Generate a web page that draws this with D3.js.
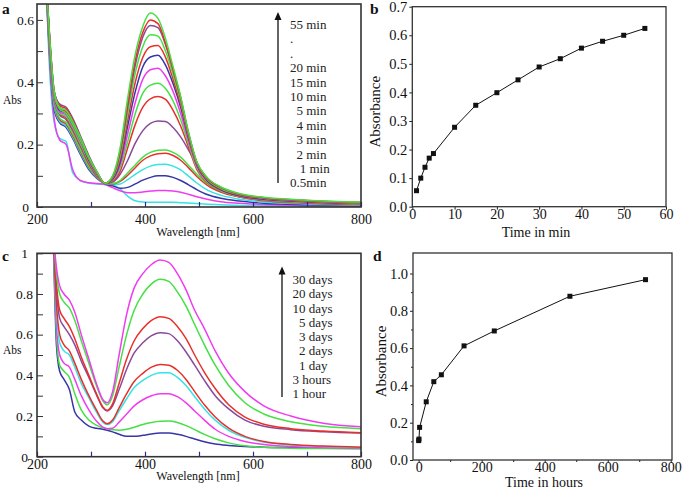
<!DOCTYPE html>
<html><head><meta charset="utf-8">
<script src="https://cdn.jsdelivr.net/npm/d3@7"></script>
<style>
html,body{margin:0;padding:0;background:#fff;}
svg{display:block;}
svg text{font-family:"Liberation Serif","Times New Roman",serif !important;}
</style></head><body>
<svg id="chart" width="685" height="496"></svg>
<script>
// ---------- Panel a: spectra over minutes ----------
const wlA = [216,224,232,242,254,266,280,296,312,326,340,354,368,382,396,410,424,438,452,466,480,496,515,540,575,620,700,800];
const a_05min = [0.75,0.42,0.27,0.22,0.21,0.11,0.085,0.077,0.074,0.072,0.07,0.058,0.035,0.02,0.016,0.015,0.015,0.015,0.015,0.014,0.013,0.011,0.009,0.007,0.005,0.004,0.003,0.002];
const a_1min  = [0.75,0.45,0.28,0.215,0.2,0.12,0.085,0.078,0.075,0.072,0.062,0.052,0.046,0.046,0.048,0.051,0.053,0.053,0.051,0.047,0.041,0.033,0.025,0.017,0.012,0.008,0.005,0.003];
const a_2min  = [0.75,0.47,0.31,0.27,0.255,0.22,0.17,0.12,0.09,0.074,0.068,0.06,0.063,0.074,0.086,0.095,0.1,0.1,0.095,0.085,0.072,0.056,0.04,0.028,0.019,0.012,0.007,0.004];
const a_3min  = [0.75,0.48,0.32,0.275,0.26,0.225,0.175,0.125,0.092,0.075,0.072,0.074,0.088,0.105,0.12,0.131,0.136,0.137,0.131,0.119,0.1,0.077,0.055,0.038,0.025,0.016,0.01,0.006];
const a_4min  = [0.75,0.49,0.33,0.28,0.265,0.23,0.18,0.128,0.094,0.076,0.074,0.082,0.102,0.126,0.15,0.164,0.171,0.172,0.165,0.15,0.127,0.098,0.07,0.048,0.032,0.02,0.012,0.007];
const a_5min  = [0.75,0.49,0.33,0.285,0.27,0.235,0.185,0.13,0.095,0.076,0.075,0.085,0.11,0.135,0.16,0.175,0.182,0.183,0.175,0.16,0.135,0.105,0.075,0.052,0.035,0.022,0.013,0.008];
const a_10min = [0.75,0.5,0.34,0.295,0.28,0.245,0.195,0.138,0.096,0.076,0.08,0.105,0.15,0.205,0.245,0.268,0.276,0.274,0.255,0.225,0.185,0.135,0.09,0.06,0.038,0.024,0.014,0.009];
const a_15min = [0.75,0.51,0.35,0.3,0.285,0.25,0.2,0.14,0.098,0.076,0.084,0.115,0.19,0.265,0.32,0.347,0.354,0.345,0.31,0.26,0.195,0.12,0.078,0.052,0.033,0.022,0.014,0.009];
const a_20min = [0.75,0.51,0.35,0.3,0.29,0.255,0.205,0.145,0.1,0.076,0.086,0.125,0.21,0.3,0.365,0.391,0.397,0.38,0.34,0.28,0.205,0.125,0.08,0.053,0.034,0.023,0.015,0.01];
const a_25min = [0.75,0.51,0.35,0.305,0.295,0.26,0.21,0.148,0.1,0.076,0.088,0.135,0.235,0.335,0.41,0.44,0.445,0.42,0.37,0.3,0.215,0.13,0.083,0.055,0.035,0.024,0.016,0.01];
const a_30min = [0.75,0.52,0.36,0.31,0.3,0.265,0.215,0.15,0.103,0.076,0.09,0.145,0.26,0.37,0.45,0.481,0.487,0.455,0.395,0.32,0.225,0.135,0.085,0.056,0.036,0.025,0.017,0.011];
const a_35min = [0.75,0.52,0.36,0.315,0.305,0.27,0.22,0.155,0.105,0.076,0.092,0.155,0.28,0.4,0.48,0.514,0.518,0.48,0.41,0.33,0.23,0.138,0.088,0.058,0.038,0.027,0.018,0.012];
const a_40min = [0.75,0.52,0.36,0.315,0.3,0.265,0.215,0.155,0.105,0.076,0.094,0.165,0.3,0.43,0.515,0.552,0.548,0.5,0.425,0.34,0.235,0.14,0.09,0.06,0.04,0.028,0.019,0.013];
const a_45min = [0.75,0.53,0.37,0.33,0.32,0.285,0.23,0.165,0.11,0.076,0.096,0.175,0.32,0.455,0.545,0.582,0.575,0.52,0.44,0.35,0.24,0.143,0.093,0.063,0.041,0.029,0.02,0.014];
const a_50min = [0.75,0.53,0.37,0.325,0.315,0.28,0.225,0.16,0.108,0.076,0.098,0.18,0.33,0.47,0.56,0.6,0.588,0.525,0.44,0.35,0.24,0.143,0.093,0.063,0.042,0.03,0.021,0.015];
const a_55min = [0.75,0.53,0.37,0.32,0.31,0.275,0.225,0.16,0.11,0.076,0.1,0.19,0.35,0.49,0.58,0.622,0.605,0.54,0.45,0.355,0.245,0.145,0.095,0.065,0.043,0.031,0.022,0.016];
const seriesA = [a_05min,a_1min,a_2min,a_3min,a_4min,a_5min,a_10min,a_15min,a_20min,a_25min,a_30min,a_35min,a_40min,a_45min,a_50min,a_55min];
const colorsA = ["#36e2e6","#f03cf0","#3636a6","#36e2e6","#e8302a","#44e044","#8a4a9a","#e8302a","#44e044","#f03cf0","#3636a6","#e8302a","#44e044","#8a4a9a","#e8302a","#44e044"];
const legendA = ["55 min",".",".","20 min","15 min","10 min","\u00a0\u00a05 min","\u00a0\u00a04 min","\u00a0\u00a03 min","\u00a0\u00a02 min","\u00a0\u00a0\u00a01 min","0.5min"];
const yTicksA = [0,0.1,0.2,0.3,0.4,0.5,0.6];
const xTicksWl = [200,300,400,500,600,700,800];

// ---------- Panel b: absorbance vs minutes ----------
const timeMin = [1,2,3,4,5,10,15,20,25,30,35,40,45,50,55];
const absMin  = [0.056,0.10,0.138,0.17,0.186,0.278,0.355,0.399,0.444,0.489,0.518,0.555,0.579,0.6,0.624];
const xTicksB = [0,10,20,30,40,50,60];
const yTicksB = [0,0.1,0.2,0.3,0.4,0.5,0.6,0.7];

// ---------- Panel c: spectra over days ----------
const wlC = [230,236,242,250,260,270,282,296,310,322,330,340,352,366,380,396,412,428,444,460,476,492,510,530,555,585,620,670,730,800];
const c_1hour  = [1.1,0.55,0.42,0.38,0.33,0.22,0.18,0.15,0.14,0.135,0.13,0.122,0.11,0.1,0.1,0.105,0.112,0.116,0.116,0.11,0.1,0.087,0.073,0.062,0.055,0.05,0.047,0.045,0.043,0.042];
const c_3hours = [1.1,0.6,0.45,0.42,0.39,0.31,0.23,0.18,0.155,0.142,0.137,0.133,0.13,0.135,0.145,0.158,0.168,0.174,0.175,0.168,0.153,0.133,0.11,0.088,0.068,0.054,0.046,0.042,0.04,0.038];
const c_1day   = [1.1,0.65,0.5,0.46,0.44,0.38,0.3,0.23,0.175,0.145,0.138,0.14,0.17,0.21,0.25,0.28,0.3,0.31,0.31,0.295,0.265,0.225,0.18,0.135,0.1,0.075,0.06,0.05,0.045,0.042];
const c_2days  = [1.1,0.72,0.56,0.52,0.5,0.44,0.36,0.29,0.22,0.17,0.158,0.172,0.225,0.285,0.34,0.375,0.4,0.413,0.413,0.39,0.35,0.295,0.235,0.18,0.13,0.095,0.072,0.058,0.05,0.045];
const c_3days  = [1.1,0.75,0.6,0.55,0.52,0.46,0.38,0.3,0.23,0.175,0.162,0.18,0.24,0.31,0.37,0.41,0.44,0.453,0.45,0.425,0.38,0.32,0.255,0.195,0.14,0.1,0.075,0.06,0.052,0.047];
const c_5days  = [1.1,0.82,0.68,0.64,0.6,0.55,0.47,0.39,0.305,0.24,0.225,0.25,0.33,0.43,0.51,0.56,0.595,0.61,0.605,0.57,0.515,0.45,0.375,0.3,0.235,0.18,0.15,0.133,0.123,0.116];
const c_10days = [1.1,0.85,0.72,0.68,0.64,0.58,0.49,0.4,0.31,0.245,0.228,0.26,0.36,0.48,0.57,0.63,0.67,0.688,0.68,0.64,0.58,0.5,0.415,0.335,0.255,0.195,0.16,0.138,0.126,0.118];
const c_20days = [1.1,0.9,0.8,0.76,0.73,0.67,0.57,0.46,0.35,0.275,0.255,0.3,0.44,0.6,0.72,0.8,0.85,0.872,0.862,0.81,0.74,0.65,0.55,0.45,0.35,0.265,0.21,0.172,0.15,0.138];
const c_30days = [1.1,0.93,0.84,0.8,0.77,0.71,0.6,0.48,0.36,0.28,0.265,0.32,0.5,0.7,0.83,0.9,0.945,0.967,0.955,0.9,0.82,0.72,0.63,0.52,0.41,0.32,0.25,0.2,0.165,0.147];
const seriesC = [c_1hour,c_3hours,c_1day,c_2days,c_3days,c_5days,c_10days,c_20days,c_30days];
const colorsC = ["#3636a6","#44e044","#f03cf0","#36e2e6","#e8302a","#8a4a9a","#e8302a","#44e044","#f03cf0"];
const legendC = ["30 days","20 days","10 days","\u00a0\u00a05 days","\u00a0\u00a03 days","\u00a0\u00a02 days","\u00a0\u00a01 day","3 hours","1 hour"];
const yTicksC = [0,0.1,0.2,0.3,0.4,0.5,0.6,0.7,0.8,0.9,1];

// ---------- Panel d: absorbance vs hours ----------
const timeHours = [0,1,3,24,48,72,144,240,480,720];
const absHours  = [0.104,0.112,0.175,0.312,0.42,0.457,0.612,0.692,0.878,0.967];
const xTicksD = [0,200,400,600,800];
const xMinorD = [100,300,500,700];
const yTicksD = [0,0.2,0.4,0.6,0.8,1.0];
const yMinorD = [0.1,0.3,0.5,0.7,0.9];

const svg = d3.select("#chart");
const SERIF = '"Liberation Serif","Times New Roman",serif';

function styleAxis(g, fs){
  g.attr("font-family", SERIF).attr("font-size", fs);
  g.selectAll("text").attr("fill","#111");
}

// ---------- spectra panels ----------
function spectraPanel(cfg){
  const {x, y, wl, series, colors, yTicks, clipId, legend, legendX, arrowX, arrowBottom, arrowTip, legendBase, legendStep, xLabPad, yLabX, absY, xTitleX, xTitleY, letter, letterY} = cfg;
  const [x0,x1] = x.range(); const [yb,yt] = y.range();
  svg.append("clipPath").attr("id", clipId).append("rect")
     .attr("x", x0).attr("y", yt).attr("width", x1-x0).attr("height", yb-yt);
  const line = d3.line().x((d,i)=>x(wl[i])).y(d=>y(d)).curve(d3.curveMonotoneX);
  svg.append("g").attr("clip-path", `url(#${clipId})`)
    .selectAll("path").data(series).join("path")
    .attr("d", d=>line(d)).attr("fill","none")
    .attr("stroke",(d,i)=>colors[i]).attr("stroke-width",1.5);

  const gy = svg.append("g").attr("transform",`translate(${x0},0)`)
    .call(d3.axisLeft(y).tickValues(yTicks).tickSize(-6).tickPadding(4)
      .tickFormat(d => (Math.round(d*10)%2 ? "" : (d===0 ? "0" : String(d)))));
  gy.select(".domain").remove();
  gy.selectAll("line").attr("stroke","#333");
  gy.selectAll("text").attr("text-anchor","middle").attr("x", yLabX - x0);
  styleAxis(gy, 13.5);

  const gx = svg.append("g").attr("transform",`translate(0,${yb})`)
    .call(d3.axisBottom(x).tickValues(xTicksWl).tickSize(-5).tickPadding(xLabPad)
      .tickFormat(d => d%200===0 ? String(d) : ""));
  gx.select(".domain").remove();
  gx.selectAll("line").attr("stroke","#2b2b8c").attr("stroke-width",1.2);
  styleAxis(gx, 14);

  svg.append("rect").attr("x",x0).attr("y",yt).attr("width",x1-x0).attr("height",yb-yt)
    .attr("fill","none").attr("stroke","#333").attr("stroke-width",1.6);

  svg.append("text").attr("x",xTitleX).attr("y",xTitleY).attr("text-anchor","middle")
    .attr("font-family",SERIF).attr("font-size",12).attr("fill","#111").text("Wavelength [nm]");
  svg.append("text").attr("x",3).attr("y",absY).attr("font-family",SERIF).attr("font-size",11.5)
    .attr("fill","#111").text("Abs");
  svg.append("text").attr("x",2).attr("y",letterY).attr("font-family",SERIF).attr("font-size",15.5)
    .attr("font-weight","bold").attr("fill","#111").text(letter);

  svg.append("line").attr("x1",arrowX).attr("x2",arrowX).attr("y1",arrowBottom).attr("y2",arrowTip+7)
    .attr("stroke","#111").attr("stroke-width",1.3);
  svg.append("path").attr("d",`M${arrowX},${arrowTip} L${arrowX-3.5},${arrowTip+8} L${arrowX+3.5},${arrowTip+8} Z`)
    .attr("fill","#111");
  svg.append("g").selectAll("text").data(legend).join("text")
    .attr("x",legendX).attr("y",(d,i)=>legendBase + i*legendStep)
    .attr("font-family",SERIF).attr("font-size",13).attr("fill","#222")
    .style("white-space","pre").text(d=>d);
}

const xA = d3.scaleLinear([200,800],[37,361]);
const yA = d3.scaleLinear([0,0.651],[207,4]);
spectraPanel({x:xA, y:yA, wl:wlA, series:seriesA, colors:colorsA, yTicks:yTicksA, clipId:"clipA",
  legend:legendA, legendX:290, arrowX:278, arrowBottom:183, arrowTip:12, legendBase:29, legendStep:14.4,
  xLabPad:7.5, yLabX:25.5, absY:104, xTitleX:198, xTitleY:236, letter:"a", letterY:14});

const xC = d3.scaleLinear([200,800],[37,361]);
const yC = d3.scaleLinear([0,1],[456.7,253.3]);
spectraPanel({x:xC, y:yC, wl:wlC, series:seriesC, colors:colorsC, yTicks:yTicksC, clipId:"clipC",
  legend:legendC, legendX:292.5, arrowX:282, arrowBottom:397, arrowTip:266.5, legendBase:284, legendStep:14.25,
  xLabPad:2, yLabX:24.5, absY:354, xTitleX:198, xTitleY:480, letter:"c", letterY:261});

// ---------- kinetics panels ----------
function kineticsPanel(cfg){
  const {x, y, xs, ys, xTicks, yTicks, xMinor, yMinor, xFmt, yFmt, xTitle, xTitleX, xTitleY, yTitleX, letter, letterX, letterY} = cfg;
  const [x0,x1] = x.range(); const [yb,yt] = y.range();
  const gx = svg.append("g").attr("transform",`translate(0,${yb})`)
    .call(d3.axisBottom(x).tickValues(xTicks).tickSize(3).tickPadding(-0.5).tickFormat(xFmt));
  gx.select(".domain").remove(); gx.selectAll("line").attr("stroke","#222");
  styleAxis(gx, 14);
  const gy = svg.append("g").attr("transform",`translate(${x0},0)`)
    .call(d3.axisLeft(y).tickValues(yTicks).tickSize(3).tickPadding(2).tickFormat(yFmt));
  gy.select(".domain").remove(); gy.selectAll("line").attr("stroke","#222");
  styleAxis(gy, 14.5);
  if (xMinor) svg.append("g").attr("transform",`translate(0,${yb})`)
    .call(d3.axisBottom(x).tickValues(xMinor).tickSize(2).tickFormat(""))
    .call(g=>g.select(".domain").remove()).selectAll("line").attr("stroke","#222");
  if (yMinor) svg.append("g").attr("transform",`translate(${x0},0)`)
    .call(d3.axisLeft(y).tickValues(yMinor).tickSize(2).tickFormat(""))
    .call(g=>g.select(".domain").remove()).selectAll("line").attr("stroke","#222");
  svg.append("rect").attr("x",x0).attr("y",yt).attr("width",x1-x0).attr("height",yb-yt)
    .attr("fill","none").attr("stroke","#333").attr("stroke-width",1.3);
  const line = d3.line().x((d,i)=>x(xs[i])).y(d=>y(d));
  svg.append("path").attr("d", line(ys)).attr("fill","none").attr("stroke","#111").attr("stroke-width",1);
  svg.append("g").selectAll("rect").data(ys).join("rect")
    .attr("x",(d,i)=>x(xs[i])-2.5).attr("y",d=>y(d)-2.5).attr("width",5).attr("height",5).attr("fill","#111");
  svg.append("text").attr("x",xTitleX).attr("y",xTitleY).attr("text-anchor","middle")
    .attr("font-family",SERIF).attr("font-size",14).attr("fill","#111").text(xTitle);
  svg.append("text").attr("transform",`translate(${yTitleX},${(yb+yt)/2 + 5}) rotate(-90)`).attr("text-anchor","middle")
    .attr("font-family",SERIF).attr("font-size",15).attr("fill","#111").text("Absorbance");
  svg.append("text").attr("x",letterX).attr("y",letterY).attr("font-family",SERIF).attr("font-size",15.5)
    .attr("font-weight","bold").attr("fill","#111").text(letter);
}

const xB = d3.scaleLinear([0,60],[412.3,666]);
const yB = d3.scaleLinear([0,0.7],[206.7,6.7]);
kineticsPanel({x:xB, y:yB, xs:timeMin, ys:absMin, xTicks:xTicksB, yTicks:yTicksB,
  xFmt:d3.format("d"), yFmt:d3.format(".1f"), xTitle:"Time in min", xTitleX:536, xTitleY:236.5, yTitleX:380,
  letter:"b", letterX:370, letterY:14});

const xD = d3.scaleLinear([-18,804],[413,672]);
const yD = d3.scaleLinear([0,1.11],[460,253]);
kineticsPanel({x:xD, y:yD, xs:timeHours, ys:absHours, xTicks:xTicksD, yTicks:yTicksD, xMinor:xMinorD, yMinor:yMinorD,
  xFmt:d3.format("d"), yFmt:d3.format(".1f"), xTitle:"Time in hours", xTitleX:544, xTitleY:486.5, yTitleX:386,
  letter:"d", letterX:373, letterY:261});
</script></body></html>
